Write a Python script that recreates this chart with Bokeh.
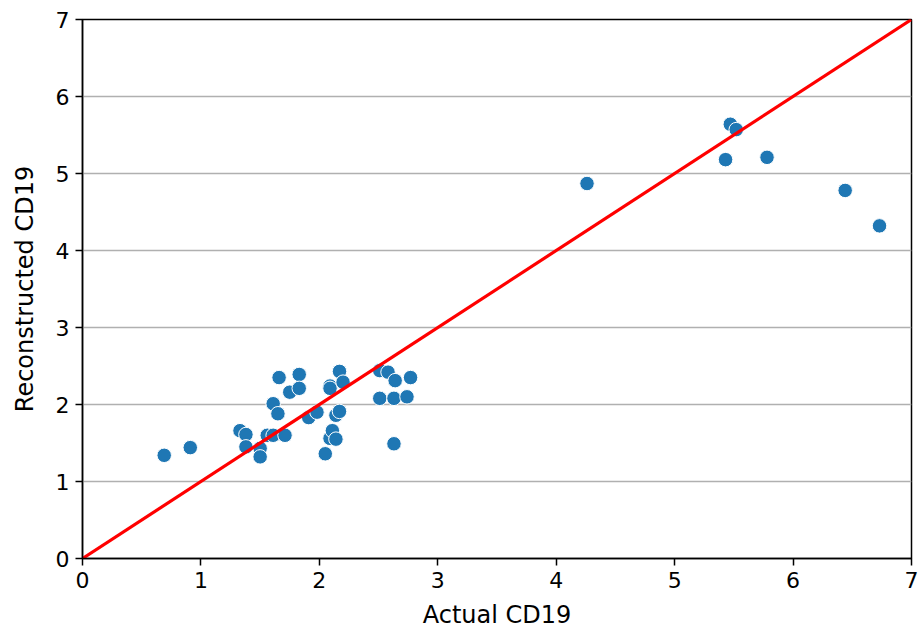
from bokeh.plotting import figure
from bokeh.embed import file_html
from bokeh.resources import INLINE
from bokeh.models import Range1d, FixedTicker

actual = [0.69, 0.91, 1.33, 1.38, 1.38, 1.50, 1.50, 1.56, 1.61, 1.61, 1.66, 1.65, 1.71,
          1.75, 1.83, 1.83, 1.91, 1.98, 2.05, 2.09, 2.09, 2.09, 2.11, 2.14, 2.14, 2.17,
          2.17, 2.20, 2.51, 2.58, 2.51, 2.63, 2.64, 2.63, 2.74, 2.77,
          4.26, 5.47, 5.52, 5.43, 5.78, 6.44, 6.73]
reconstructed = [1.34, 1.44, 1.66, 1.61, 1.45, 1.43, 1.32, 1.60, 2.01, 1.60, 2.35, 1.88, 1.60,
                 2.16, 2.39, 2.21, 1.83, 1.90, 1.36, 2.24, 2.21, 1.56, 1.66, 1.55, 1.86, 2.43,
                 1.91, 2.29, 2.44, 2.42, 2.08, 2.08, 2.31, 1.49, 2.10, 2.35,
                 4.87, 5.64, 5.57, 5.18, 5.21, 4.78, 4.32]
line_x = [0, 7]
line_y = [0, 7]
ticks = [0, 1, 2, 3, 4, 5, 6, 7]

p = figure(width=918, height=633, output_backend="svg", toolbar_location=None,
           x_range=Range1d(0, 7), y_range=Range1d(0, 7),
           min_border_left=82, min_border_right=7, min_border_top=19, min_border_bottom=75)
p.outline_line_color = "black"
p.outline_line_width = 1.5
p.xgrid.visible = False
p.ygrid.grid_line_color = "#b0b0b0"
p.ygrid.grid_line_width = 1.5
p.background_fill_color = "white"
p.border_fill_color = "white"

for ax in (p.xaxis[0], p.yaxis[0]):
    ax.ticker = FixedTicker(ticks=ticks)
    ax.minor_tick_line_color = None
    ax.major_tick_out = 7
    ax.major_tick_in = 0
    ax.major_tick_line_width = 1.5
    ax.axis_line_width = 1.5
    ax.major_label_text_font = "DejaVu Sans"
    ax.major_label_text_font_size = "22px"
    ax.major_label_text_color = "black"
    ax.axis_label_text_font = "DejaVu Sans"
    ax.axis_label_text_font_size = "24px"
    ax.axis_label_text_font_style = "normal"
    ax.axis_label_text_color = "black"
    ax.axis_line_color = "black"
    ax.major_tick_line_color = "black"

p.xaxis.axis_label = "Actual CD19"
p.yaxis.axis_label = "Reconstructed CD19"
p.xaxis.axis_label_standoff = 10
p.yaxis.axis_label_standoff = 14
p.xaxis.major_label_standoff = 6
p.yaxis.major_label_standoff = 6

p.scatter(actual, reconstructed, size=14.5, fill_color="#1f77b4", line_color="white", line_width=1)
p.line(line_x, line_y, line_color="red", line_width=3.2)

open("out.html", "w").write(file_html(p, INLINE))
